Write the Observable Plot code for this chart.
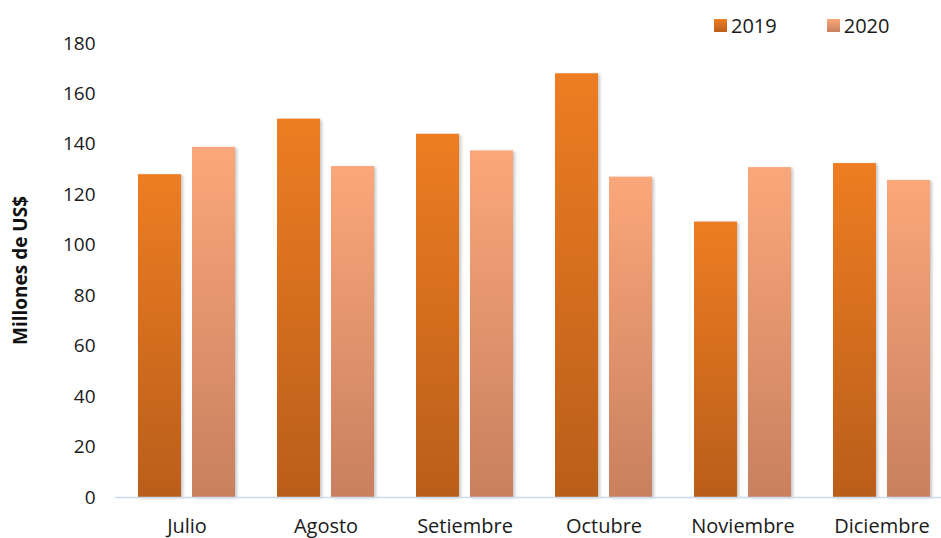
<!DOCTYPE html>
<html>
<head>
<meta charset="utf-8">
<script src="https://cdn.jsdelivr.net/npm/d3@7"></script>
<script src="https://cdn.jsdelivr.net/npm/@observablehq/plot@0.6"></script>
<style>
  html, body { margin: 0; padding: 0; background: #fff; }
  #wrap { position: relative; width: 941px; height: 538px; overflow: hidden; font-family: "Open Sans", sans-serif; }
  #legend { position: absolute; top: 12px; left: 714px; display: flex; align-items: center; font-size: 20px; color: #1a1a1a; }
  #legend .item { display: flex; align-items: center; }
  #legend .sw { width: 13px; height: 13px; margin-right: 4px; }
  g[aria-label="bar"] rect { filter: drop-shadow(2px 1px 1.5px rgba(0,0,0,0.22)); }
</style>
</head>
<body>
<div id="wrap">
  <div id="legend">
    <div class="item"><div class="sw" style="background: linear-gradient(#EE7D22, #B95E1A)"></div><span>2019</span></div>
    <div class="item" style="margin-left: 50px"><div class="sw" style="background: linear-gradient(#FBA77A, #C8805F)"></div><span>2020</span></div>
  </div>
</div>
<script>
const months = ["Julio", "Agosto", "Setiembre", "Octubre", "Noviembre", "Diciembre"];
const values2019 = [128, 150, 144, 168, 109.2, 132.4];
const values2020 = [138.8, 131.2, 137.4, 127, 130.8, 125.7];
const yTicks = [0, 20, 40, 60, 80, 100, 120, 140, 160, 180];

const data2019 = months.map((m, i) => ({month: m, value: values2019[i]}));
const data2020 = months.map((m, i) => ({month: m, value: values2020[i]}));

const chart = Plot.plot({
  width: 941,
  height: 538,
  marginTop: 43,
  marginBottom: 41,
  marginLeft: 115,
  marginRight: -12,
  style: {fontFamily: "Open Sans, sans-serif", color: "#1a1a1a", background: "transparent"},
  x: {domain: months, paddingInner: 0, paddingOuter: 0, label: null, tickSize: 0, tickPadding: 21},
  y: {domain: [0, 180], ticks: yTicks, label: null, tickSize: 0, tickPadding: 20},
  marks: [
    Plot.barY(data2019, {x: "month", y: "value", fill: "#EE7D22", insetLeft: 21, insetRight: 75}),
    Plot.barY(data2020, {x: "month", y: "value", fill: "#FBA77A", insetLeft: 75, insetRight: 21}),
    Plot.ruleY([0], {stroke: "#C9DCEF", strokeWidth: 1.5}),
    Plot.text(["Millones de US$"], {frameAnchor: "left", textAnchor: "middle", rotate: -90, dx: -95, fontSize: 19, fontWeight: "bold", fill: "#111"})
  ]
});

// gradient definitions
const ns = "http://www.w3.org/2000/svg";
const defs = document.createElementNS(ns, "defs");
defs.innerHTML = `
  <linearGradient id="g2019" x1="0" y1="0" x2="0" y2="1">
    <stop offset="0" stop-color="#EE7D22"/><stop offset="1" stop-color="#B95E1A"/>
  </linearGradient>
  <linearGradient id="g2020" x1="0" y1="0" x2="0" y2="1">
    <stop offset="0" stop-color="#FBA77A"/><stop offset="1" stop-color="#C8805F"/>
  </linearGradient>`;
chart.insertBefore(defs, chart.firstChild);
const barGroups = chart.querySelectorAll('g[aria-label="bar"]');
if (barGroups[0]) barGroups[0].setAttribute("fill", "url(#g2019)");
if (barGroups[1]) barGroups[1].setAttribute("fill", "url(#g2020)");

// tick label sizes
chart.querySelectorAll('g[aria-label="x-axis tick label"], g[aria-label="x-axis"]').forEach(g => g.setAttribute("font-size", 20));
chart.querySelectorAll('g[aria-label="y-axis tick label"], g[aria-label="y-axis"]').forEach(g => g.setAttribute("font-size", 19));

document.getElementById("wrap").appendChild(chart);
</script>
</body>
</html>
